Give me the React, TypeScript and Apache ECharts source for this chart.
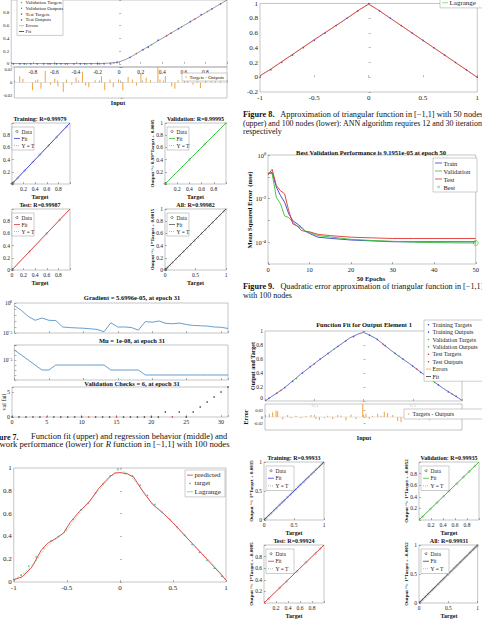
import React, { useEffect, useRef } from "react";
import * as echarts from "echarts";

const FONT = '"Liberation Serif", "Times New Roman", Times, serif';

// ===== Figure 7 (upper): function fit of the R function =====
const fit7X = [-1, -0.8, -0.6, -0.4, -0.2, -0.1, 0, 0.05, 0.1, 0.15, 0.2, 0.3, 0.4, 0.5, 0.6, 0.7, 0.8, 0.9, 1];
const fit7Y = [0.004, 0.003, 0.004, 0.003, 0.004, 0.01, 0.03, 0.06, 0.1, 0.15, 0.2, 0.3, 0.4, 0.5, 0.6, 0.7, 0.8, 0.9, 1];
const tr7X = [-0.98, -0.92, -0.88, -0.82, -0.76, -0.7, -0.64, -0.58, -0.54, -0.48, -0.42, -0.36, -0.32, -0.26, -0.2, -0.14, -0.08, -0.02, 0.1, 0.22, 0.27, 0.36, 0.48, 0.55, 0.66, 0.76, 0.86, 0.94];
const tr7Y = [0, 0, 0, 0, 0, 0, 0, 0, 0, 0, 0, 0, 0, 0, 0, 0, 0, 0.02, 0.1, 0.22, 0.26, 0.37, 0.48, 0.55, 0.66, 0.77, 0.86, 0.94];
const va7X = [-0.86, -0.6, -0.3, -0.05, 0.3, 0.58, 0.82];
const va7Y = [0, 0, 0, 0.01, 0.3, 0.58, 0.82];
const te7X = [-0.66, -0.5, -0.18, 0.16, 0.44, 0.7];
const te7Y = [0, 0, 0, 0.16, 0.44, 0.7];
const err7X = [-0.95, -0.92, -0.83, -0.78, -0.75, -0.71, -0.66, -0.62, -0.59, -0.54, -0.51, -0.46, -0.42, -0.36, -0.33, -0.3, -0.24, -0.18, -0.15, -0.1, -0.07, -0.02, 0.02, 0.07, 0.11, 0.15, 0.19, 0.24, 0.28, 0.35, 0.37, 0.42, 0.48, 0.51, 0.54, 0.6, 0.63, 0.68, 0.72, 0.75, 0.8, 0.85, 0.89, 0.94];
const err7Y = [0.008, 0.005, -0.01, 0.004, -0.008, 0.015, -0.003, 0.005, -0.005, -0.012, 0.004, -0.003, 0.006, 0.014, -0.004, -0.006, 0.003, 0.008, -0.01, 0.004, -0.006, 0.004, -0.01, 0.007, 0.004, -0.004, 0.012, 0.006, 0.003, 0.02, 0.004, 0.008, -0.005, -0.008, 0.003, 0.01, 0.005, -0.003, 0.004, -0.007, 0.003, 0.006, 0.005, 0.004];

// ===== Figure 7 (middle): regressions =====
const r7TrT = [0, 0, 0.004, 0.008, 0.012, 0.03, 0.1, 0.22, 0.36, 0.48, 0.63, 0.77, 0.94];
const r7TrO = [0.003, 0.001, 0.006, 0.009, 0.013, 0.031, 0.1, 0.22, 0.361, 0.48, 0.63, 0.77, 0.94];
const r7VaT = [0, 0.003, 0.006, 0.4, 0.65, 1];
const r7VaO = [0.002, 0.004, 0.007, 0.399, 0.651, 0.999];
const r7TeT = [0, 0.003, 0.006, 0.3, 0.6, 0.82];
const r7TeO = [0.002, 0.005, 0.006, 0.301, 0.6, 0.821];
const r7AlT = [0, 0, 0.004, 0.008, 0.012, 0.02, 0.04, 0.08, 0.12, 0.18, 0.24, 0.3, 0.36, 0.42, 0.48, 0.54, 0.6, 0.66, 0.72, 0.78, 0.84, 0.9, 0.96, 1];
const r7AlO = [0.002, 0.006, 0.001, 0.01, 0.014, 0.021, 0.041, 0.08, 0.121, 0.18, 0.24, 0.301, 0.36, 0.42, 0.481, 0.54, 0.6, 0.659, 0.72, 0.78, 0.841, 0.9, 0.96, 0.999];
const fitLine = [[0, 0], [1, 1]];
const identity = [[0, 0], [1, 1]];

// ===== Figure 7 (lower): training performance =====
const epochs31 = [0, 1, 2, 3, 4, 5, 6, 7, 8, 9, 10, 11, 12, 13, 14, 15, 16, 17, 18, 19, 20, 21, 22, 23, 24, 25, 26, 27, 28, 29, 30, 31];
const gradVals = [0.36, 0.06, 0.006, 1.3e-3, 3.2e-3, 1.3e-3, 1.2e-3, 1e-4, 8e-5, 7e-5, 6.3e-5, 5e-5, 4e-5, 1.6e-5, 5e-4, 1e-4, 1e-4, 8e-5, 3e-5, 8e-4, 6.3e-4, 1e-3, 4e-4, 3.5e-4, 4.5e-4, 2.5e-4, 1.8e-4, 1.6e-4, 1.4e-4, 1e-4, 9e-5, 5.7e-5];
const muVals = [1e-3, 1e-4, 1e-5, 1e-6, 1e-7, 1e-7, 1e-6, 1e-6, 1e-6, 1e-6, 1e-6, 1e-6, 1e-6, 1e-6, 1e-7, 1e-7, 1e-7, 1e-7, 1e-7, 1e-8, 1e-8, 1e-8, 1e-8, 1e-8, 1e-8, 1e-8, 1e-8, 1e-8, 1e-8, 1e-8, 1e-8, 1e-8];
const valFail = [0, 0, 0, 0, 0, 0, 0, 0, 0, 0, 0, 0, 0, 0, 0, 0, 0, 0, 0, 0, 0, 0, 1, 0, 1, 0, 1, 2, 3, 4, 5, 6];
const valFailRed = [5, 11, 15, 23];

// ===== Figure 8 (upper): 50 nodes =====
const predX = [-1, -0.92, -0.83, -0.74, -0.68, -0.59, -0.53, -0.47, -0.38, -0.29, -0.2, -0.1, -0.05, 0, 0.07, 0.13, 0.22, 0.31, 0.4, 0.5, 0.59, 0.68, 0.77, 0.86, 0.95, 1];
const predY = [0.02, 0.045, 0.13, 0.28, 0.34, 0.39, 0.43, 0.52, 0.62, 0.7, 0.82, 0.92, 0.955, 0.96, 0.95, 0.92, 0.79, 0.68, 0.61, 0.52, 0.43, 0.34, 0.25, 0.16, 0.07, 0.015];
const targX = [-1, -0.93, -0.86, -0.79, -0.72, -0.65, -0.58, -0.51, -0.44, -0.37, -0.3, -0.23, -0.16, -0.09, -0.02, 0.05, 0.12, 0.19, 0.26, 0.33, 0.4, 0.47, 0.54, 0.61, 0.68, 0.75, 0.82, 0.89, 0.96];
const targY = [0.02, 0.06, 0.14, 0.22, 0.3, 0.36, 0.4, 0.46, 0.55, 0.63, 0.69, 0.78, 0.86, 0.93, 0.99, 0.95, 0.93, 0.85, 0.76, 0.68, 0.61, 0.55, 0.48, 0.41, 0.33, 0.26, 0.19, 0.12, 0.05];
const lagX = [-1, -0.9, -0.8, -0.7, -0.6, -0.5, -0.4, -0.3, -0.2, -0.1, 0, 0.1, 0.2, 0.3, 0.4, 0.5, 0.6, 0.7, 0.8, 0.9, 1];
const lagY = [0.02, 0.08, 0.17, 0.3, 0.38, 0.45, 0.58, 0.7, 0.8, 0.91, 0.99, 0.93, 0.82, 0.69, 0.61, 0.52, 0.42, 0.32, 0.23, 0.13, 0.02];

// ===== Figure 8 (lower): 100 nodes, triangle =====
const triPredX = [-1, -0.9, -0.75, -0.5, -0.25, -0.08, 0, 0.08, 0.25, 0.5, 0.75, 0.9, 1];
const triPredY = [0.02, 0.11, 0.26, 0.51, 0.75, 0.92, 0.99, 0.92, 0.75, 0.5, 0.25, 0.1, 0];
const triTargX = [-1, -0.9, -0.8, -0.7, -0.6, -0.5, -0.4, -0.3, -0.2, -0.1, 0, 0.1, 0.2, 0.3, 0.4, 0.5, 0.6, 0.7, 0.8, 0.9, 1];
const triTargY = [0, 0.1, 0.2, 0.3, 0.4, 0.5, 0.6, 0.7, 0.8, 0.9, 1, 0.9, 0.8, 0.7, 0.6, 0.5, 0.4, 0.3, 0.2, 0.1, 0];
const triLagX = [-1, -0.5, -0.1, 0, 0.1, 0.5, 1];
const triLagY = [0.02, 0.5, 0.9, 1, 0.9, 0.5, 0];

// ===== Figure 9: performance =====
const perfEp = [0, 1, 2, 3, 4, 5, 6, 7, 8, 9, 10, 12, 15, 20, 25, 30, 35, 40, 45, 50];
const perfTrain = [0.14, 0.16, 0.034, 0.0138, 0.0068, 0.002, 9.5e-4, 7e-4, 5e-4, 3.2e-4, 2.5e-4, 1.7e-4, 1.5e-4, 1.26e-4, 1.15e-4, 1.05e-4, 1.05e-4, 1.05e-4, 1.05e-4, 1.05e-4];
const perfVal = [0.15, 0.14, 0.0115, 0.0058, 0.0016, 0.00135, 8e-4, 5.6e-4, 4.5e-4, 3.2e-4, 2.8e-4, 2e-4, 1.74e-4, 1.35e-4, 1.2e-4, 1.1e-4, 1.0e-4, 9.6e-5, 9.3e-5, 9.2e-5];
const perfTest = [0.12, 0.22, 0.04, 0.023, 0.0166, 0.00275, 6.8e-4, 5.6e-4, 3.5e-4, 3.1e-4, 3e-4, 2.3e-4, 2e-4, 1.7e-4, 1.58e-4, 1.48e-4, 1.48e-4, 1.48e-4, 1.48e-4, 1.48e-4];
const bestPoint = [50, 9.1951e-5];

// ===== Figure 10 (upper): function fit, triangle =====
const ff10X = [-1, -0.81, -0.64, -0.475, -0.31, -0.14, -0.05, 0, 0.05, 0.13, 0.3, 0.47, 0.64, 0.81, 1];
const ff10Y = [0, 0.18, 0.38, 0.56, 0.73, 0.9, 0.96, 0.98, 0.95, 0.89, 0.7, 0.53, 0.35, 0.18, 0.01];
const tr10X = [-0.96, -0.88, -0.8, -0.72, -0.62, -0.54, -0.44, -0.36, -0.26, -0.18, -0.1, 0.06, 0.14, 0.22, 0.32, 0.4, 0.5, 0.58, 0.68, 0.76, 0.86, 0.94];
const tr10Y = [0.04, 0.11, 0.19, 0.28, 0.4, 0.49, 0.6, 0.68, 0.78, 0.86, 0.92, 0.94, 0.88, 0.79, 0.68, 0.6, 0.5, 0.41, 0.31, 0.23, 0.13, 0.07];
const va10X = [-0.68, -0.3, 0, 0.36, 0.72];
const va10Y = [0.32, 0.74, 0.99, 0.64, 0.27];
const te10X = [-0.84, -0.5, 0.2, 0.54, 0.9];
const te10Y = [0.15, 0.53, 0.81, 0.46, 0.1];
const err10X = [-0.956, -0.922, -0.888, -0.871, -0.82, -0.77, -0.736, -0.685, -0.635, -0.584, -0.533, -0.482, -0.448, -0.398, -0.364, -0.313, -0.262, -0.228, -0.178, -0.127, -0.076, -0.008, 0.025, 0.059, 0.093, 0.144, 0.178, 0.211, 0.245, 0.296, 0.347, 0.381, 0.431, 0.465, 0.516, 0.567, 0.617, 0.668, 0.719, 0.77, 0.82, 0.871, 0.922, 0.956, 0.99];
const err10Y = [0.01, 0.015, 0.02, 0.018, -0.008, 0.006, -0.004, 0.004, -0.004, 0.003, 0.006, -0.006, -0.01, -0.004, 0.004, -0.006, 0.006, 0.004, -0.01, 0.008, -0.006, 0.04, 0.01, -0.006, 0.004, 0.01, 0.004, 0.016, 0.012, 0.006, -0.012, -0.016, 0.006, 0.01, 0.008, -0.008, 0.006, -0.01, 0.004, -0.006, 0.004, -0.004, 0.006, 0.008, -0.004];

// ===== Figure 10 (lower): regressions =====
const r10TrT = [0.01, 0.04, 0.08, 0.12, 0.17, 0.21, 0.26, 0.3, 0.34, 0.39, 0.44, 0.48, 0.53, 0.57, 0.61, 0.66, 0.7, 0.74, 0.79, 0.83, 0.87, 0.92, 0.96, 0.99];
const r10TrO = [0.012, 0.035, 0.085, 0.118, 0.172, 0.205, 0.262, 0.305, 0.336, 0.394, 0.436, 0.485, 0.527, 0.574, 0.612, 0.655, 0.704, 0.738, 0.792, 0.826, 0.874, 0.915, 0.962, 0.985];
const r10VaT = [0.06, 0.19, 0.3, 0.41, 0.5, 0.63, 0.74, 0.84, 0.93];
const r10VaO = [0.055, 0.188, 0.297, 0.41, 0.498, 0.628, 0.742, 0.836, 0.928];
const r10TeT = [0.08, 0.26, 0.38, 0.55, 0.7, 0.86, 0.94];
const r10TeO = [0.076, 0.262, 0.372, 0.548, 0.705, 0.852, 0.938];
const r10AlT = [0.01, 0.03, 0.05, 0.07, 0.1, 0.12, 0.15, 0.17, 0.2, 0.23, 0.25, 0.28, 0.31, 0.34, 0.37, 0.4, 0.42, 0.45, 0.48, 0.5, 0.53, 0.56, 0.59, 0.62, 0.64, 0.67, 0.7, 0.72, 0.75, 0.78, 0.8, 0.83, 0.86, 0.88, 0.91, 0.93, 0.95, 0.97, 0.99, 1];
const r10AlO = [0.012, 0.026, 0.052, 0.066, 0.104, 0.117, 0.153, 0.166, 0.203, 0.226, 0.254, 0.276, 0.313, 0.336, 0.372, 0.396, 0.424, 0.446, 0.483, 0.497, 0.532, 0.556, 0.593, 0.617, 0.643, 0.666, 0.703, 0.716, 0.752, 0.776, 0.803, 0.826, 0.862, 0.876, 0.912, 0.926, 0.952, 0.966, 0.988, 0.994];

const COL = {
  blue: "#3340d6",
  green: "#36c036",
  red: "#e23434",
  gray: "#444",
  orange: "#f2a33a",
  perf: "#3d86c4",
  teal: "#2a9d9a",
  lag: "#7ad17a",
};

const num = (v: number) => String(Math.round(v * 1000) / 1000);
const SUP: Record<string, string> = { "0": "⁰", "1": "¹", "2": "²", "3": "³", "4": "⁴", "5": "⁵", "6": "⁶", "7": "⁷", "8": "⁸", "9": "⁹", "-": "⁻" };
const pow10 = (e: number) => "10" + String(e).split("").map((c) => SUP[c]).join("");
const logFmt = (show: number[]) => (v: number) => {
  const e = Math.round(Math.log10(v));
  return show.includes(e) ? pow10(e) : "";
};
const zip = (xs: number[], ys: number[]) => xs.map((x, i) => [x, ys[i]]);

type Ax = {
  min: number; max: number; interval?: number; log?: boolean; labels?: number[] | null; fmt?: (v: number) => string;
  split?: number; fs?: number; color?: string; vMin?: string; vMax?: string;
};
type LegItem = { label: string; kind: "line" | "dotted" | "dot" | "circle"; color: string };

function buildOption() {
  const grid: any[] = [];
  const xAxis: any[] = [];
  const yAxis: any[] = [];
  const series: any[] = [];
  const graphic: any[] = [];

  const axis = (ax: Ax, gi: number) => {
    const showLab = !!ax.labels || !!ax.fmt;
    const f = ax.fmt ?? ((v: number) => (ax.labels && ax.labels.some((u) => Math.abs(u - v) < 1e-6) ? num(v) : ""));
    const lab: any = { show: showLab, fontSize: ax.fs ?? 5.5, fontFamily: FONT, color: ax.color ?? "#222", margin: 2, formatter: f };
    if (ax.vMin) lab.verticalAlignMinLabel = ax.vMin;
    if (ax.vMax) lab.verticalAlignMaxLabel = ax.vMax;
    const o: any = {
      gridIndex: gi,
      type: ax.log ? "log" : "value",
      min: ax.min,
      max: ax.max,
      axisLine: { show: false },
      axisTick: { show: true, inside: true, length: 2, lineStyle: { color: "#666", width: 0.5 } },
      axisLabel: lab,
      splitLine: { show: false },
    };
    if (ax.log) o.logBase = 10;
    if (!ax.log && ax.interval != null) o.interval = ax.interval;
    if (ax.split != null) o.splitNumber = ax.split;
    return o;
  };
  const panel = (left: number, top: number, width: number, height: number, xa: Ax, ya: Ax) => {
    const gi = grid.length;
    grid.push({ left, top, width, height, show: true, borderColor: "#8a8a8a", borderWidth: 0.5, backgroundColor: "rgba(255,255,255,0)" });
    xAxis.push(axis(xa, gi));
    yAxis.push(axis(ya, gi));
    return gi;
  };
  const line = (gi: number, data: any[], color: string, width = 0.8, type: any = "solid", z = 2) =>
    series.push({ type: "line", xAxisIndex: gi, yAxisIndex: gi, data, symbol: "none", showSymbol: false, lineStyle: { color, width, type }, itemStyle: { color }, z, silent: true });
  const dots = (gi: number, data: any[], color: string, size = 1.6, z = 3) =>
    series.push({ type: "scatter", xAxisIndex: gi, yAxisIndex: gi, data, symbol: "circle", symbolSize: size, itemStyle: { color }, z, silent: true });
  const rings = (gi: number, data: any[], size = 2) =>
    series.push({ type: "scatter", xAxisIndex: gi, yAxisIndex: gi, data, symbol: "circle", symbolSize: size, itemStyle: { color: "rgba(255,255,255,0)", borderColor: "#555", borderWidth: 0.3 }, z: 4, silent: true });
  const bars = (gi: number, data: any[], color: string) =>
    series.push({ type: "bar", xAxisIndex: gi, yAxisIndex: gi, data, barWidth: 0.8, itemStyle: { color }, silent: true });

  const txt = (x: number, y: number, text: string, o: any = {}) =>
    graphic.push({
      type: "text",
      x,
      y,
      rotation: o.rot ?? 0,
      scaleX: o.sx ?? 1,
      z: o.z ?? 110,
      style: {
        text,
        fontSize: o.fs ?? 6,
        fontFamily: FONT,
        fontWeight: o.bold ? "bold" : "normal",
        fontStyle: o.italic ? "italic" : "normal",
        fill: o.color ?? "#111",
        align: o.align ?? "center",
        verticalAlign: o.va ?? "middle",
        textAlign: o.align ?? "center",
        textVerticalAlign: o.va ?? "middle",
        rich: o.rich,
      },
    });
  const legend = (x: number, y: number, w: number, row: number, items: LegItem[], fs: number, sw = 7) => {
    graphic.push({ type: "rect", z: 100, shape: { x, y, width: w, height: row * items.length + 2 }, style: { fill: "#fff", stroke: "#9a9a9a", lineWidth: 0.5 } });
    items.forEach((it, k) => {
      const cy = y + 1 + row * (k + 0.5);
      const sx = x + 2;
      if (it.kind === "line") graphic.push({ type: "line", z: 101, shape: { x1: sx, y1: cy, x2: sx + sw, y2: cy }, style: { stroke: it.color, lineWidth: 0.8 } });
      else if (it.kind === "dotted") graphic.push({ type: "line", z: 101, shape: { x1: sx, y1: cy, x2: sx + sw, y2: cy }, style: { stroke: it.color, lineWidth: 0.6, lineDash: [1, 1] } });
      else if (it.kind === "dot") graphic.push({ type: "circle", z: 101, shape: { cx: sx + sw / 2, cy, r: 0.7 }, style: { fill: it.color } });
      else graphic.push({ type: "circle", z: 101, shape: { cx: sx + sw / 2, cy, r: 1 }, style: { fill: "#fff", stroke: it.color, lineWidth: 0.5 } });
      txt(sx + sw + 1.5, cy, it.label, { fs, align: "left", z: 102, color: "#222" });
    });
  };

  const reg = (o: {
    left: number; top: number; w: number; h: number; xl: number[]; xi: number; yl: number[]; yi: number; color: string;
    T: number[]; O: number[]; title: string; ylab?: string; legW: number; legRow: number;
  }) => {
    const gi = panel(o.left, o.top, o.w, o.h, { min: 0, max: 1, interval: o.xi, labels: o.xl }, { min: 0, max: 1, interval: o.yi, labels: o.yl });
    line(gi, identity, "#9a9a9a", 0.6, "dotted", 2);
    line(gi, fitLine, o.color, 0.9, "solid", 3);
    rings(gi, zip(o.T, o.O));
    txt(o.left + o.w / 2, o.top - 4, o.title, { bold: true, fs: 6 });
    txt(o.left + o.w / 2, o.top + o.h + 13, "Target", { bold: true, fs: 6 });
    if (o.ylab) txt(o.left - 13, o.top + o.h / 2, o.ylab, { rot: Math.PI / 2, fs: 5, bold: true });
    legend(o.left + 2, o.top + 4, o.legW, o.legRow, [
      { label: "Data", kind: "circle", color: "#222" },
      { label: "Fit", kind: "line", color: o.color },
      { label: "Y = T", kind: "dotted", color: "#888" },
    ], 5.5, 6);
  };

  const fitLegend: LegItem[] = [
    { label: "Training Targets", kind: "dot", color: COL.blue },
    { label: "Training Outputs", kind: "dot", color: COL.blue },
    { label: "Validation Targets", kind: "dot", color: COL.green },
    { label: "Validation Outputs", kind: "dot", color: COL.green },
    { label: "Test Targets", kind: "dot", color: COL.red },
    { label: "Test Outputs", kind: "dot", color: COL.red },
    { label: "Errors", kind: "line", color: COL.orange },
    { label: "Fit", kind: "line", color: "#333" },
  ];

  // ---------- Figure 7 upper ----------
  const p0 = panel(8, -17, 219, 84, { min: -1, max: 1, interval: 0.2, labels: [-0.8, -0.6, -0.4, -0.2, 0, 0.2, 0.4, 0.6, 0.8] }, { min: -0.05, max: 1, split: 5, labels: [0, 0.2, 0.4, 0.6, 0.8], fs: 5 });
  line(p0, zip(fit7X, fit7Y), "#555", 0.6);
  dots(p0, zip(tr7X, tr7Y), COL.blue, 1.6);
  dots(p0, zip(va7X, va7Y), COL.green, 1.6);
  dots(p0, zip(te7X, te7Y), COL.red, 1.6);
  const p1 = panel(8, 67, 219, 31, { min: -1, max: 1, interval: 0.2, labels: null }, { min: -0.02, max: 0.02, interval: 0.02, labels: [-0.02, 0, 0.02], fs: 4.5, vMax: "top", vMin: "bottom" });
  line(p1, [[-1, 0], [1, 0]], "#bbb", 0.4);
  bars(p1, zip(err7X, err7Y), COL.orange);
  txt(118, 103, "Input", { bold: true, fs: 6 });
  legend(17, -13, 46, 5.8, fitLegend, 5, 5);
  legend(182, 73, 45, 6, [{ label: "Targets - Outputs", kind: "dot", color: COL.orange }], 5, 4);

  // ---------- Figure 7 middle ----------
  reg({ left: 10, top: 123, w: 60, h: 61, xl: [0.2, 0.4, 0.6, 0.8], xi: 0.2, yl: [0.2, 0.4, 0.6, 0.8], yi: 0.2, color: COL.blue, T: r7TrT, O: r7TrO, title: "Training: R=0.99979", legW: 22, legRow: 7 });
  reg({ left: 165, top: 123, w: 61, h: 61, xl: [0.2, 0.4, 0.6, 0.8], xi: 0.2, yl: [0.2, 0.4, 0.6, 0.8, 1], yi: 0.2, color: COL.green, T: r7VaT, O: r7VaO, title: "Validation: R=0.99995", ylab: "Output ~= 0.99*Target + 0.0005", legW: 22, legRow: 7 });
  reg({ left: 10, top: 209, w: 60, h: 61, xl: [0, 0.2, 0.4, 0.6, 0.8], xi: 0.2, yl: [0, 0.2, 0.4, 0.6, 0.8], yi: 0.2, color: COL.red, T: r7TeT, O: r7TeO, title: "Test: R=0.99987", legW: 22, legRow: 7 });
  reg({ left: 165, top: 209, w: 61, h: 61, xl: [0, 0.5, 1], xi: 0.5, yl: [0, 0.2, 0.4, 0.6, 0.8, 1], yi: 0.2, color: "#555", T: r7AlT, O: r7AlO, title: "All: R=0.99982", ylab: "Output ~= 1*Target + 0.0015", legW: 22, legRow: 7 });

  // ---------- Figure 7 lower ----------
  const p6 = panel(12, 303, 216, 30, { min: 0, max: 31, interval: 5, labels: null }, { min: 1e-5, max: 1, log: true, split: 5, fmt: logFmt([0, -5]) });
  line(p6, zip(epochs31, gradVals), COL.perf, 0.8);
  txt(132, 297, "Gradient = 5.6996e-05, at epoch 31", { bold: true, fs: 6.5 });
  const p7 = panel(12, 345, 216, 35, { min: 0, max: 31, interval: 5, labels: null }, { min: 1e-9, max: 1e-2, log: true, split: 7, fmt: logFmt([-5]) });
  line(p7, zip(epochs31, muVals), COL.perf, 0.8);
  txt(132, 340, "Mu = 1e-08, at epoch 31", { bold: true, fs: 6.5 });
  const p8 = panel(12, 387, 216, 30, { min: 0, max: 31, interval: 5, labels: [0, 5, 10, 15, 20, 25, 30], fs: 6 }, { min: 0, max: 6, interval: 5, labels: [0, 5], fs: 6 });
  dots(p8, zip(epochs31, valFail).filter((_, i) => !valFailRed.includes(i)), "#333", 1.6);
  dots(p8, zip(epochs31, valFail).filter((_, i) => valFailRed.includes(i)), COL.red, 1.6);
  txt(132, 383, "Validation Checks = 6, at epoch 31", { bold: true, fs: 6.5 });
  txt(4, 402, "val fail", { rot: Math.PI / 2, fs: 6 });

  // caption Figure 7 (justified by stretching each line horizontally)
  const CAP = 8;
  const richC = { b: { fontWeight: "bold", fontSize: CAP, fontFamily: FONT }, i: { fontStyle: "italic", fontSize: CAP, fontFamily: FONT } };
  txt(-12, 437, "{b|Figure 7.}", { fs: CAP, align: "left", rich: richC });
  txt(31, 437, "Function fit (upper) and regression behavior (middle) and", { fs: CAP, align: "left", sx: 1.065 });
  txt(-11, 445, "network performance (lower) for {i|R} function in [−1,1] with 100 nodes", { fs: CAP, align: "left", rich: richC, sx: 1.085 });

  // ---------- Figure 8 upper (bottom-left) ----------
  const p9 = panel(4, 468, 222, 114, { min: -1, max: 1, interval: 0.5, labels: [-1, -0.5, 0, 0.5, 1], fs: 7 }, { min: 0, max: 1, interval: 0.2, labels: [0, 0.2, 0.4, 0.6, 0.8, 1], fs: 7 });
  line(p9, zip(lagX, lagY), COL.lag, 0.6, "dashed", 2);
  line(p9, zip(predX, predY), COL.red, 0.9, "solid", 3);
  dots(p9, zip(targX, targY), COL.teal, 1.5);
  legend(185, 470, 40, 8.3, [
    { label: "predicted", kind: "line", color: COL.red },
    { label: "target", kind: "dot", color: COL.teal },
    { label: "Lagrange", kind: "line", color: COL.lag },
  ], 7, 6);

  // ---------- Figure 8 lower (top-right) ----------
  const p10 = panel(260, -7, 221, 99, { min: -1, max: 1, interval: 0.5, labels: [-1, -0.5, 0, 0.5, 1], fs: 7 }, { min: -0.2, max: 1, interval: 0.2, labels: [-0.2, 0, 0.2, 0.4, 0.6, 0.8, 1], fs: 7 });
  line(p10, zip(triLagX, triLagY), COL.lag, 0.6, "dashed", 2);
  line(p10, zip(triPredX, triPredY), COL.red, 0.9, "solid", 3);
  dots(p10, zip(triTargX, triTargY), COL.blue, 1.5);
  legend(440, -19, 43, 8.3, [
    { label: "predicted", kind: "line", color: COL.red },
    { label: "target", kind: "dot", color: COL.blue },
    { label: "Lagrange", kind: "line", color: COL.lag },
  ], 7, 6);

  // caption Figure 8
  txt(243, 115, "{b|Figure 8.}   Approximation of triangular function in [−1,1] with 50 nodes", { fs: CAP, align: "left", rich: richC, sx: 1.035 });
  txt(243, 123, "(upper) and 100 nodes (lower): ANN algorithm requires 12 and 30 iterations", { fs: CAP, align: "left", sx: 0.99 });
  txt(243, 131, "respectively", { fs: CAP, align: "left" });

  // ---------- Figure 9 ----------
  const p11 = panel(268, 155, 209, 109, { min: 0, max: 50, interval: 10, labels: [0, 10, 20, 30, 40, 50], fs: 6.5 }, { min: 1e-5, max: 1, log: true, split: 5, fmt: logFmt([0, -2, -4]), fs: 6.5 });
  line(p11, zip(perfEp, perfTrain), COL.blue, 0.9);
  line(p11, zip(perfEp, perfVal), COL.green, 0.9);
  line(p11, zip(perfEp, perfTest), COL.red, 0.9);
  series.push({ type: "scatter", xAxisIndex: p11, yAxisIndex: p11, data: [bestPoint], symbol: "circle", symbolSize: 5, itemStyle: { color: "rgba(255,255,255,0)", borderColor: COL.green, borderWidth: 0.8 }, z: 5, silent: true });
  txt(371, 152, "Best Validation Performance is 9.1951e-05 at epoch 50", { bold: true, fs: 6.5 });
  txt(371, 278, "50 Epochs", { bold: true, fs: 6.5 });
  txt(249, 210, "Mean Squared Error  (mse)", { bold: true, fs: 6.5, rot: Math.PI / 2 });
  legend(433, 158, 44, 8, [
    { label: "Train", kind: "line", color: COL.blue },
    { label: "Validation", kind: "line", color: COL.green },
    { label: "Test", kind: "line", color: COL.red },
    { label: "Best", kind: "circle", color: COL.green },
  ], 6.5, 7);
  txt(243, 287, "{b|Figure 9.}   Quadratic error approximation of triangular function in [−1,1]", { fs: CAP, align: "left", rich: richC, sx: 1.025 });
  txt(243, 295, "with 100 nodes", { fs: CAP, align: "left" });

  // ---------- Figure 10 upper ----------
  const p12 = panel(265, 331, 197, 70, { min: -1, max: 1, interval: 0.5, labels: [-0.5, 0.5], fs: 5, color: "#c4c4c4" }, { min: 0, max: 1, interval: 0.2, labels: [0, 0.2, 0.4, 0.6, 0.8, 1], fs: 5.5, vMin: "bottom" });
  line(p12, zip(ff10X, ff10Y), "#4a55a8", 0.8);
  dots(p12, zip(tr10X, tr10Y), COL.blue, 1.5);
  dots(p12, zip(va10X, va10Y), COL.green, 1.5);
  dots(p12, zip(te10X, te10Y), COL.red, 1.5);
  txt(364, 324, "Function Fit for Output Element 1", { bold: true, fs: 6.5 });
  txt(253, 366, "Output and Target", { bold: true, fs: 6, rot: Math.PI / 2 });
  legend(424, 320, 62, 7.4, fitLegend, 6, 5);
  const p13 = panel(265, 404, 197, 26, { min: -1, max: 1, interval: 0.5, labels: null }, { min: -0.04, max: 0.04, interval: 0.02, labels: [-0.04, -0.02, 0, 0.02, 0.04], fs: 4.5, vMax: "top", vMin: "bottom" });
  line(p13, [[-1, 0], [1, 0]], "#bbb", 0.4);
  bars(p13, zip(err10X, err10Y), COL.orange);
  txt(246, 417, "Error", { bold: true, fs: 6, rot: Math.PI / 2 });
  txt(364, 438, "Input", { bold: true, fs: 6 });
  legend(404, 409, 80, 8, [{ label: "Targets - Outputs", kind: "dot", color: COL.orange }], 6, 5);

  // ---------- Figure 10 lower ----------
  reg({ left: 264, top: 462, w: 60, h: 58, xl: [0, 0.5, 1], xi: 0.5, yl: [0, 0.5, 1], yi: 0.5, color: COL.blue, T: r10TrT, O: r10TrO, title: "Training: R=0.99933", ylab: "Output ~= 1*Target + 0.0015", legW: 28, legRow: 7.5 });
  reg({ left: 419, top: 462, w: 60, h: 58, xl: [0.2, 0.4, 0.6, 0.8], xi: 0.2, yl: [0.2, 0.4, 0.6, 0.8], yi: 0.2, color: COL.green, T: r10VaT, O: r10VaO, title: "Validation: R=0.99935", ylab: "Output ~= 1*Target + -0.0052", legW: 28, legRow: 7.5 });
  reg({ left: 264, top: 545, w: 60, h: 58, xl: [0.2, 0.4, 0.6, 0.8], xi: 0.2, yl: [0.2, 0.4, 0.6, 0.8], yi: 0.2, color: COL.red, T: r10TeT, O: r10TeO, title: "Test: R=0.99924", ylab: "Output ~= 1*Target + -0.0085", legW: 28, legRow: 7.5 });
  reg({ left: 419, top: 545, w: 60, h: 58, xl: [0, 0.5, 1], xi: 0.5, yl: [0, 0.5, 1], yi: 0.5, color: "#444", T: r10AlT, O: r10AlO, title: "All: R=0.99931", ylab: "Output ~= 1*Target + -0.0052", legW: 28, legRow: 7.5 });

  return {
    animation: false,
    backgroundColor: "#fff",
    textStyle: { fontFamily: FONT },
    grid,
    xAxis,
    yAxis,
    series,
    graphic: { elements: graphic },
  };
}

export default function App() {
  const ref = useRef<HTMLDivElement>(null);
  useEffect(() => {
    if (!ref.current) return;
    const chart = echarts.init(ref.current, undefined, { renderer: "svg" });
    chart.setOption(buildOption() as any);
    return () => chart.dispose();
  }, []);
  return <div ref={ref} style={{ position: "fixed", left: 0, top: 0, width: 482, height: 623, background: "#fff" }} />;
}
